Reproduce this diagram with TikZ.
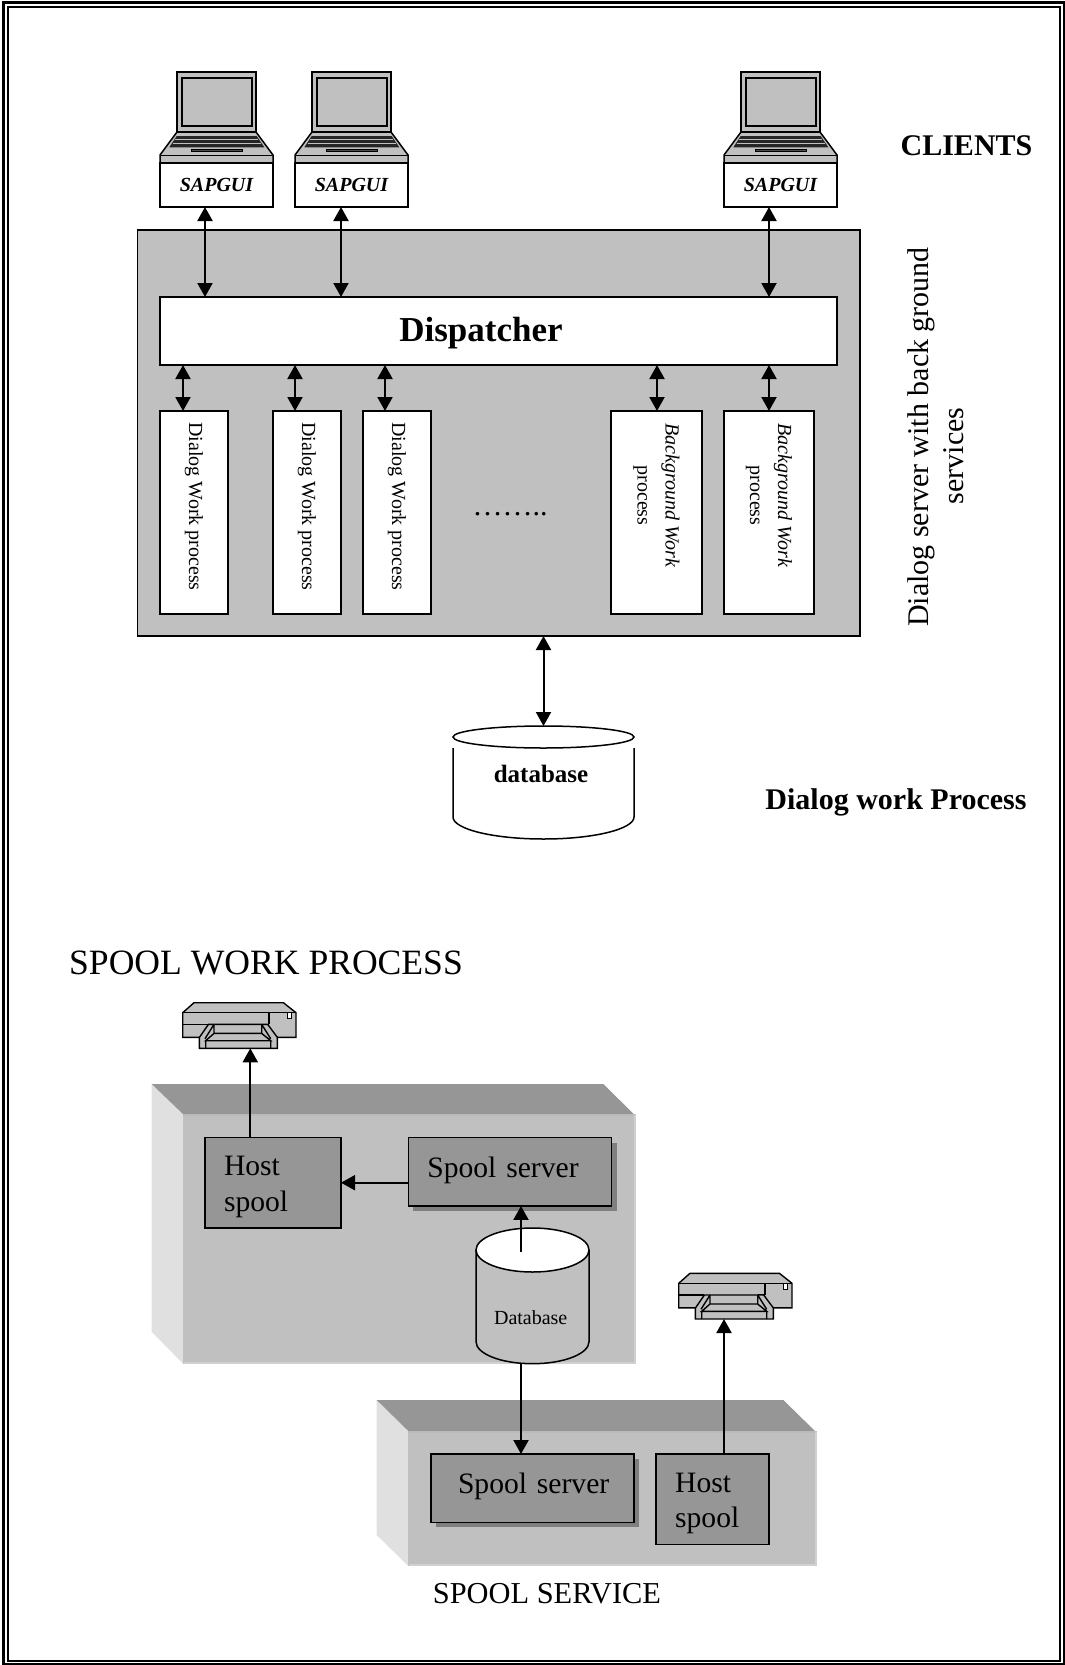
\documentclass[tikz,border=0pt]{standalone}
\usepackage{fontspec}
\setmainfont{Liberation Serif}
\usetikzlibrary{arrows.meta,calc}
\definecolor{panel}{HTML}{C0C0C0}
\definecolor{hostgray}{HTML}{969696}
\definecolor{sidegray}{HTML}{E0E0E0}
\definecolor{shadowgray}{HTML}{7F7F7F}
\begin{document}
\begin{tikzpicture}[x=1pt,y=-1pt]
\tikzset{txt/.style={font=\fontsize{#1}{#1}\selectfont,inner sep=0pt}}
\tikzset{box/.style={draw,line width=1.5pt,inner sep=0pt,outer sep=0pt,fill=white}}
\tikzset{wp/.style={box,rotate=-90,minimum width=203pt,minimum height=#1,align=center,font=\fontsize{20}{28}\selectfont}}
\tikzset{sapgui/.style={box,minimum width=113pt,minimum height=44pt,font=\fontsize{20}{24}\selectfont\bfseries\itshape}}
\tikzset{spool/.style={box,fill=hostgray,text width=#1,align=left,inner xsep=19pt,font=\fontsize{29.6}{35.7}\selectfont}}
\tikzset{dbl/.style={{Triangle[width=15pt,length=14pt]}-{Triangle[width=15pt,length=14pt]},line width=2pt}}
\tikzset{single/.style={-{Triangle[width=15pt,length=14pt]},line width=2pt}}
\tikzset{laptop/.pic={
\draw[line width=1.5pt,fill=panel] (17,0) rectangle (96,60);
\draw[line width=1.5pt,fill=panel] (22,6) rectangle (92,54);
\draw[line width=1.5pt,fill=panel] (17,60) -- (0,83) -- (0,91) -- (113,91) -- (113,83) -- (96,60) -- cycle;
\draw[line width=1pt] (0,83) -- (113,83);
\fill[black!85] (16.7,64) -- (96.7,64) -- (104.3,75.3) -- (9.3,75.3) -- cycle;
\draw[panel,line width=.8pt] (15,67.5) -- (98,67.5) (12.5,71.5) -- (101,71.5);
\draw[line width=1pt,fill=black!70] (31,77) rectangle (82.3,79.7);
}}
\tikzset{printer/.pic={
\draw[line width=1.4pt,fill=panel] (0,10) -- (11.3,0) -- (100.7,0) -- (113.3,10) -- (113.3,34.6) -- (0,34.6) -- cycle;
\draw[line width=1.4pt] (0,10) -- (113.3,10) (86.3,10) -- (86.3,21.7) (0,21.7) -- (25.7,21.7) (79,21.7) -- (86.3,21.7);
\draw[line width=1.4pt,fill=white] (105,10) rectangle (108.7,16);
\draw[line width=1.4pt,fill=panel] (16.7,34.7) -- (25.7,21.7) -- (85,21.7) -- (94.7,34.7) -- (94.7,45.7) -- (16.7,45.7) -- cycle;
\draw[line width=1.4pt] (31.3,21.7) -- (22.3,36) (79,21.7) -- (88,36) (31.3,21.7) -- (31.3,30.7) -- (79,30.7) -- (79,21.7)
(31.3,30.7) -- (23,38) -- (88,38) -- (79,30.7) (23,38) -- (23,45.7) (88,38) -- (88,45.7);
}}
\useasboundingbox (0,0) rectangle (1065,1665);
\draw[line width=3pt] (3,2.5) rectangle (1064.5,1664.5);
\draw[line width=2pt] (8,7) rectangle (1060,1661);
\node[box,fill=panel,minimum width=722.5pt,minimum height=406pt] (server) at (498.75,433) {};
\node[box,minimum width=677pt,minimum height=68pt,text height=28.5pt,text depth=8pt,font=\fontsize{35}{35}\selectfont\bfseries] (disp) at (498.5,331) {Dispatcher\hspace*{35pt}};
\pic at (160,72) {laptop};
\pic at (295,72) {laptop};
\pic at (724,72) {laptop};
\node[sapgui] (gui1) at (216.5,185) {SAPGUI};
\node[sapgui] (gui2) at (351.5,185) {SAPGUI};
\node[sapgui] (gui3) at (780.5,185) {SAPGUI};
\node[wp=68pt] (wp1) at (194,512.5) {Dialog Work process\hspace*{12pt}};
\node[wp=68pt] (wp2) at (307,512.5) {Dialog Work process\hspace*{12pt}};
\node[wp=68pt] (wp3) at (397,512.5) {Dialog Work process\hspace*{12pt}};
\node[wp=91pt] (bg1) at (656.5,512.5) {\textit{Background Work}\hspace*{34pt}\\process\hspace*{34pt}};
\node[wp=90pt] (bg2) at (769,512.5) {\textit{Background Work}\hspace*{34pt}\\process\hspace*{34pt}};
\node[txt=30] (dots) at (510,514) {……..};
\foreach \x/\g in {205/gui1,341/gui2,769/gui3}
\draw[dbl] (\x,0 |- \g.south) -- (\x,0 |- disp.north);
\foreach \x/\w in {183/wp1,295/wp2,385/wp3,657/bg1,769/bg2}
\draw[dbl] (\x,0 |- disp.south) -- (\x,0 |- \w.west);
\node[inner sep=0pt,font=\fontsize{30}{30}\selectfont\bfseries] (clients) at (966.5,146) {CLIENTS};
\node[rotate=90,inner sep=0pt,align=center,font=\fontsize{30}{35}\selectfont] (srvlabel) at (936,437) {Dialog server with back ground\\services\hspace*{38pt}};
\draw[line width=1.5pt] (453,748) -- (453,817) arc[start angle=180,end angle=360,x radius=90.5pt,y radius=22pt] -- (634,748);
\draw[line width=1.5pt] (543.5,737) ellipse [x radius=90.5pt,y radius=11pt];
\coordinate (dbtop) at (543.5,726);
\node[inner sep=0pt,font=\fontsize{25}{25}\selectfont\bfseries] (db) at (541,774) {database};
\draw[dbl] (543.5,0 |- server.south) -- (dbtop);
\node[inner sep=0pt,font=\fontsize{30}{30}\selectfont\bfseries] (dwp) at (896,802) {Dialog work Process};
\node[txt=35.6,anchor=west] (swp) at (69,963) {SPOOL WORK PROCESS};
\fill[sidegray] (151.7,1084) -- (183.3,1114) -- (183.3,1364) -- (151.7,1331.7) -- cycle;
\fill[hostgray] (151.7,1084) -- (603.3,1084) -- (634,1114.3) -- (183.3,1114.3) -- cycle;
\fill[panel] (183.3,1114.3) rectangle (636,1364);
\draw[panel!85!hostgray,line width=2pt] (183.3,1115.3) -- (634,1115.3);
\draw[panel!75!white,line width=2pt] (635,1115) -- (635,1363) -- (184,1363);
\pic at (182.7,1002.7) {printer};
\coordinate (tray1) at (250.3,1048.3);
\fill[shadowgray] (413,1143) rectangle (616.7,1211);
\node[spool=98pt,minimum height=90.3pt] (host1) at (273,1182.8) {\rule{0pt}{28pt}Host\\spool};
\node[spool=165pt,minimum height=68.3pt,text depth=10pt] (srv1) at (509.85,1171.8) {Spool server};
\draw[line width=1.5pt,fill=panel] (476,1250) -- (476,1341.7) arc[start angle=180,end angle=360,x radius=56.5pt,y radius=22pt] -- (589,1250);
\draw[line width=1.5pt,fill=white] (532.5,1250) ellipse [x radius=56.5pt,y radius=22pt];
\coordinate (dbin) at (521,1251.7);
\coordinate (dbout) at (521,1363.3);
\node[txt=20] (db2) at (530.7,1317.7) {Database};
\draw[single] (250.3,0 |- host1.north) -- (tray1);
\draw[single] (srv1.west |- 0,1182.7) -- (host1.east |- 0,1182.7);
\draw[single] (dbin) -- (521,0 |- srv1.south);
\fill[sidegray] (376.7,1400) -- (408.3,1431) -- (408.3,1566) -- (376.7,1535) -- cycle;
\fill[hostgray] (376.7,1400) -- (783.3,1400) -- (815,1431) -- (408.3,1431) -- cycle;
\fill[panel] (408.3,1431) rectangle (817,1566);
\draw[panel!85!hostgray,line width=2pt] (408.3,1432) -- (815,1432);
\draw[panel!75!white,line width=2pt] (816,1432) -- (816,1565) -- (409,1565);
\pic at (678.7,1273.3) {printer};
\coordinate (tray2) at (724,1319);
\fill[shadowgray] (435.7,1459) rectangle (639.3,1527.3);
\node[spool=165pt,minimum height=68.3pt,text depth=10pt] (srv2) at (532.5,1488.15) {\hspace*{8pt}Spool server};
\node[spool=75pt,minimum height=90.3pt] (host2) at (712.65,1499.15) {\rule{0pt}{28pt}Host\\spool};
\draw[single] (dbout) -- (521,0 |- srv2.north);
\draw[single] (724,0 |- host2.north) -- (tray2);
\node[txt=30.4] (ssvc) at (547,1594) {SPOOL SERVICE};
\end{tikzpicture}
\end{document}
